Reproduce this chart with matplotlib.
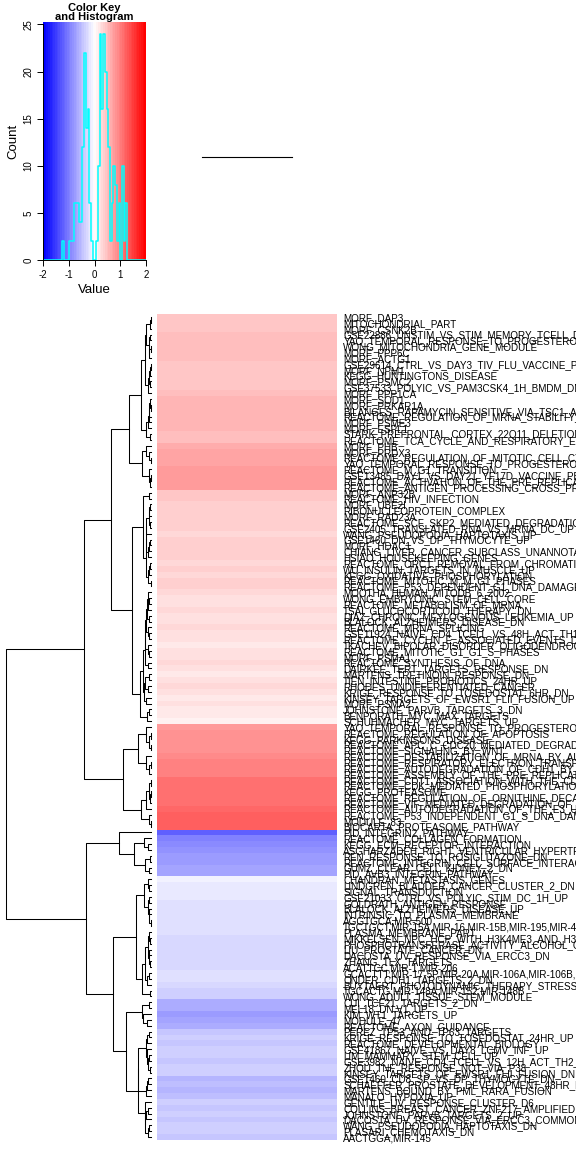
import matplotlib
matplotlib.use('Agg')
import matplotlib.pyplot as plt
import numpy as np
from matplotlib.colors import LinearSegmentedColormap, BoundaryNorm
from matplotlib.ticker import MaxNLocator

plt.rcParams['font.family'] = ['Liberation Sans', 'DejaVu Sans']

# row groups, top to bottom as shown in the heatmap
labels_a = [
    'MORF_DAP3', 'MITOCHONDRIAL_PART', 'MORF_CSNK2B',
    'GSE22886_UNSTIM_VS_STIM_MEMORY_TCELL_DN',
    'YAO_TEMPORAL_RESPONSE_TO_PROGESTERONE_CLUSTER_3',
    'WONG_MITOCHONDRIA_GENE_MODULE', 'MORF_PPP6C', 'MORF_ACTG1',
    'GSE29614_CTRL_VS_DAY3_TIV_FLU_VACCINE_PBMC_DN', 'MORF_NPM1',
    'KEGG_HUNTINGTONS_DISEASE', 'MORF_PSMC2',
    'GSE37533_POLYIC_VS_PAM3CSK4_1H_BMDM_DN', 'MORF_PPP1CA', 'MORF_SOD1',
    'MORF_PRKAR1A', 'BILANGES_RAPAMYCIN_SENSITIVE_VIA_TSC1_AND_TSC2',
    'REACTOME_REGULATION_OF_MRNA_STABILITY_BY_PROTEINS_THAT_BIND_AU_RICH_ELEMENTS',
    'MORF_PSME3', 'MORF_ESPL1', 'STARK_PREFRONTAL_CORTEX_22Q11_DELETION_UP',
    'REACTOME_TCA_CYCLE_AND_RESPIRATORY_ELECTRON_TRANSPORT', 'MORF_PHB',
    'MORF_PRDX3', 'REACTOME_REGULATION_OF_MITOTIC_CELL_CYCLE',
    'YAO_TEMPORAL_RESPONSE_TO_PROGESTERONE_CLUSTER_13',
    'REACTOME_M_G1_TRANSITION', 'GSE13485_DAY1_VS_DAY21_YF17D_VACCINE_PBMC_DN',
    'REACTOME_ACTIVATION_OF_THE_PRE_REPLICATIVE_COMPLEX',
    'REACTOME_ANTIGEN_PROCESSING_CROSS_PRESENTATION',
]
values_a = [0.45, 0.46, 0.44, 0.50, 0.52, 0.49, 0.48, 0.51, 0.42, 0.43,
            0.44, 0.41, 0.43, 0.47, 0.55, 0.57, 0.56, 0.58, 0.54, 0.59,
            0.50, 0.52, 0.64, 0.69, 0.71, 0.72, 0.75, 0.77, 0.78, 0.79]

labels_b = [
    'MORF_ANP32B', 'REACTOME_HIV_INFECTION', 'MORF_UBE2I',
    'RIBONUCLEOPROTEIN_COMPLEX', 'MORF_RAD23A',
    'REACTOME_SCF_SKP2_MEDIATED_DEGRADATION_OF_P27_P21',
    'GSE2405_TRANSLATED_RNA_VS_MRNA_DC_UP', 'WANG_PSEUDOPODIA_HAPTOTAXIS_UP',
    'GSE1460_DN_VS_DP_THYMOCYTE_UP', 'MORF_HDAC1',
    'CHIANG_LIVER_CANCER_SUBCLASS_UNANNOTATED_DN', 'HSIAO_HOUSEKEEPING_GENES',
    'REACTOME_ORC1_REMOVAL_FROM_CHROMATIN', 'WU_INSULIN_TARGETS_IN_MUSCLE_UP',
    'KEGG_OXIDATIVE_PHOSPHORYLATION', 'REACTOME_MITOTIC_M_M_G1_PHASES',
    'REACTOME_P53_DEPENDENT_G1_DNA_DAMAGE_RESPONSE',
    'MOOTHA_HUMAN_MITODB_6_2002', 'WONG_EMBRYONIC_STEM_CELL_CORE',
    'REACTOME_METABOLISM_OF_MRNA', 'TSAI_GLUCOCORTICOID_THERAPY_DN',
    'DIAZ_CHRONIC_MEYLOGENOUS_LEUKEMIA_UP', 'BLALOCK_ALZHEIMERS_DISEASE_DN',
    'REACTOME_MRNA_SPLICING', 'GSE11924_NAIVE_CD4_TCELL_VS_48H_ACT_TH1_UP',
    'REACTOME_CYCLIN_E_ASSOCIATED_EVENTS_DURING_G1_S_TRANSITION',
    'TKACHEV_BIPOLAR_DISORDER_OLIGODENDROCYTE_DN',
    'REACTOME_MITOTIC_G1_G1_S_PHASES', 'MORF_PSMA1',
    'REACTOME_SYNTHESIS_OF_DNA', 'DAIRKEE_TERT_TARGETS_RESPONSE_DN',
    'MARTENS_TRETINOIN_RESPONSE_DN', 'TIEN_INTESTINE_PROBIOTICS_24HR_UP',
    'RHODES_UNDIFFERENTIATED_CANCER', 'KRIGE_RESPONSE_TO_TOSEDOSTAT_6HR_DN',
    'KINSEY_TARGETS_OF_EWSR1_FLII_FUSION_UP', 'MORF_PSMA2',
    'JOHNSTONE_PARVB_TARGETS_3_DN', 'BENPORATH_MYC_MAX_TARGETS',
    'SCHUHMACHER_MYC_TARGETS_UP',
]
values_b = [0.41, 0.44, 0.38, 0.36, 0.39, 0.35, 0.37, 0.31, 0.36, 0.38,
            0.34, 0.39, 0.32, 0.34, 0.30, 0.36, 0.35, 0.28, 0.25, 0.22,
            0.27, 0.24, 0.21, 0.29, 0.23, 0.26, 0.19, 0.25, 0.22, 0.30,
            0.24, 0.17, 0.21, 0.28, 0.23, 0.16, 0.25, 0.18, 0.15, 0.11]

labels_c = [
    'YAO_TEMPORAL_RESPONSE_TO_PROGESTERONE_CLUSTER_14',
    'REACTOME_REGULATION_OF_APOPTOSIS', 'KEGG_PARKINSONS_DISEASE',
    'REACTOME_APC_C_CDC20_MEDIATED_DEGRADATION_OF_MITOTIC_PROTEINS',
    'REACTOME_SIGNALING_BY_WNT',
    'REACTOME_DESTABILIZATION_OF_MRNA_BY_AUF1_HNRNP_D0',
    'REACTOME_RESPIRATORY_ELECTRON_TRANSPORT',
    'REACTOME_AUTODEGRADATION_OF_CDH1_BY_CDH1_APC_C',
    'REACTOME_ASSEMBLY_OF_THE_PRE_REPLICATIVE_COMPLEX',
    'REACTOME_CDT1_ASSOCIATION_WITH_THE_CDC6_ORC_ORIGIN_COMPLEX',
    'REACTOME_CDK_MEDIATED_PHOSPHORYLATION_AND_REMOVAL_OF_CDC6',
    'KEGG_PROTEASOME', 'REACTOME_REGULATION_OF_ORNITHINE_DECARBOXYLASE_ODC',
    'REACTOME_VIF_MEDIATED_DEGRADATION_OF_APOBEC3G',
    'REACTOME_AUTODEGRADATION_OF_THE_E3_UBIQUITIN_LIGASE_COP1',
    'REACTOME_P53_INDEPENDENT_G1_S_DNA_DAMAGE_CHECKPOINT', 'MODULE_83',
    'BIOCARTA_PROTEASOME_PATHWAY',
]
values_c = [0.77, 0.82, 0.83, 0.84, 0.85, 0.90, 0.96, 0.97, 0.99, 1.08,
            1.09, 1.10, 1.11, 1.12, 1.16, 1.22, 1.24, 1.25]

labels_d = [
    'PID_INTEGRIN2_PATHWAY', 'REACTOME_COLLAGEN_FORMATION',
    'KEGG_ECM_RECEPTOR_INTERACTION', 'ASGHARZADEH_RIGHT_VENTRICULAR_HYPERTROPHY',
    'REN_RESPONSE_TO_ROSIGLITAZONE_DN',
    'REACTOME_INTEGRIN_CELL_SURFACE_INTERACTIONS',
    'GUMZ_CLEAR_CELL_KIDNEY_2_DN', 'PID_AVB3_INTEGRIN_PATHWAY',
]
values_d = [-1.23, -0.97, -0.90, -0.84, -0.78, -0.76, -0.71, -0.68]

labels_e = [
    'CHANDRAN_METASTASIS_GENES', 'LINDGREN_BLADDER_CANCER_CLUSTER_2_DN',
    'SIGNAL_TRANSDUCTION', 'GSE21033_CTRL_VS_POLYIC_STIM_DC_1H_UP',
    'GOLDRATH_ANTIGEN_RESPONSE', 'BLALOCK_ALZHEIMERS_DISEASE_UP',
    'INTRINSIC_TO_PLASMA_MEMBRANE', 'AGGTGCA,MIR-500',
    'TGCTGCT,MIR-15A,MIR-16,MIR-15B,MIR-195,MIR-424,MIR-497',
    'PLASMA_MEMBRANE_PART', 'MIKKELSEN_NPC_HCP_WITH_H3K4ME3_AND_H3K27ME3',
    'PHOSPHOTRANSFERASE_ACTIVITY_ALCOHOL_GROUP_AS_ACCEPTOR',
    'LIU_PROSTATE_CANCER_DN', 'DACOSTA_UV_RESPONSE_VIA_ERCC3_DN',
    'ZHANG_TLX_TARGETS', 'ACATTCC,MIR-1,MIR-206',
    'GCACTTT,MIR-17-5P,MIR-20A,MIR-106A,MIR-106B,MIR-20B,MIR-519D',
    'ONDER_CDH1_TARGETS_2_DN', 'BUYTAERT_PHOTODYNAMIC_THERAPY_STRESS_UP',
    'TGCACTG,MIR-148A,MIR-152,MIR-148B', 'WONG_ADULT_TISSUE_STEM_MODULE',
    'CUI_TCF21_TARGETS_2_DN', 'MEL18_DN.V1_UP', 'KIM_WT1_TARGETS_UP',
    'MODULE_47', 'REACTOME_AXON_GUIDANCE', 'PEREZ_TP53_AND_TP63_TARGETS',
    'KRIGE_RESPONSE_TO_TOSEDOSTAT_24HR_UP', 'REACTOME_DEVELOPMENTAL_BIOLOGY',
    'GSE41867_NAIVE_VS_DAY8_LCMV_INF_UP', 'LIM_MAMMARY_STEM_CELL_UP',
    'GSE3982_NAIVE_CD4_TCELL_VS_12H_ACT_TH2_UP',
    'ZHOU_TNF_RESPONSE_NOT_VIA_P38', 'KINSEY_TARGETS_OF_EWSR1_FLII_FUSION_DN',
    'GSE1460_CD8_SP_VS_DP_THYMOCYTE_DN',
    'SCHAEFFER_PROSTATE_DEVELOPMENT_48HR_DN',
    'MARTENS_BOUND_BY_PML_RARA_FUSION', 'MANALO_HYPOXIA_UP',
    'GENTILE_UV_RESPONSE_CLUSTER_D6', 'COLLINS_BREAST_CANCER_ZNF217_AMPLIFIED',
    'JOHNSTONE_PARVB_TARGETS_2_UP', 'DACOSTA_UV_RESPONSE_VIA_ERCC3_COMMON_DN',
    'WANG_PSEUDOPODIA_HAPTOTAXIS_DN', 'PLASARI_CHEMOTAXIS_DN',
    'AACTGGA,MIR-145',
]
values_e = [-0.12, -0.18, -0.15, -0.19, -0.22, -0.25, -0.21, -0.24, -0.23,
            -0.26, -0.29, -0.27, -0.31, -0.28, -0.32, -0.30, -0.22, -0.25,
            -0.29, -0.36, -0.38, -0.62, -0.65, -0.77, -0.70, -0.63, -0.41,
            -0.37, -0.44, -0.35, -0.39, -0.42, -0.36, -0.38, -0.55, -0.50,
            -0.57, -0.48, -0.34, -0.43, -0.37, -0.45, -0.39, -0.35, -0.41]

labels = labels_a + labels_b + labels_c + labels_d + labels_e
values = np.array(values_a + values_b + values_c + values_d + values_e)
mat = np.column_stack([values, values])   # two identical columns
n = len(values)

W, H = 576, 1152
fig = plt.figure(figsize=(W / 100, H / 100), dpi=100)


def px(l, t, r, b):
    return [l / W, 1 - b / H, (r - l) / W, (b - t) / H]


cmap = LinearSegmentedColormap.from_list('bluered', ['#0000FF', '#FFFFFF', '#FF0000'], N=60)
breaks = np.linspace(-2, 2, 61)
norm = BoundaryNorm(breaks, cmap.N)

# heatmap
ax = fig.add_axes(px(157, 314, 337, 1140))
ax.imshow(mat, cmap=cmap, norm=norm, aspect='auto', interpolation='nearest',
          extent=(0, mat.shape[1], n, 0))
ax.set_ylim(n, 0)
ax.set_xticks([])
ax.yaxis.tick_right()
ax.set_yticks(np.arange(n) + 0.5)
ax.set_yticklabels(labels, fontsize=7.1)
ax.tick_params(axis='y', length=0, pad=4.5)
for s in ax.spines.values():
    s.set_visible(False)


# row dendrogram: complete linkage, keeping neighbouring rows together
def row_tree(v):
    cl = [dict(lo=x, hi=x, pos=i + 0.5, h=0.0) for i, x in enumerate(v)]
    segs = []
    while len(cl) > 1:
        d = [(max(a['hi'], b['hi']) - min(a['lo'], b['lo'])) * np.sqrt(2)
             for a, b in zip(cl[:-1], cl[1:])]
        k = int(np.argmin(d))
        a, b = cl[k], cl[k + 1]
        h = d[k]
        segs.append(([a['h'], h, h, b['h']], [a['pos'], a['pos'], b['pos'], b['pos']]))
        cl[k:k + 2] = [dict(lo=min(a['lo'], b['lo']), hi=max(a['hi'], b['hi']),
                            pos=(a['pos'] + b['pos']) / 2, h=h)]
    return segs, cl[0]['h']


segs, top = row_tree(values)
axd = fig.add_axes(px(0, 314, 157, 1140))
for xs, ys in segs:
    axd.plot(xs, ys, color='black', lw=0.75)
axd.set_ylim(n, 0)
axd.set_xlim(top * 1.04, -top * 0.04)
axd.axis('off')

# column dendrogram (two identical columns -> zero height)
axc = fig.add_axes(px(157, 22, 337, 292))
col_h = np.linalg.norm(mat[:, 0] - mat[:, 1])
axc.plot([0.5, 1.5], [col_h, col_h], color='black', lw=0.8)
axc.set_xlim(0, 2)
axc.set_ylim(-1, 1)
axc.axis('off')

# color key with histogram
axk = fig.add_axes(px(43, 22, 146, 260))
axk.imshow(np.linspace(-2, 2, 60)[None, :], cmap=cmap, norm=norm, aspect='auto',
           extent=(-2, 2, 0, 1), interpolation='nearest')
counts, _ = np.histogram(mat.ravel(), bins=breaks)
hy = counts / counts.max() * 0.95
axk.step(breaks, np.append(hy, hy[-1]), where='post', color='#00FFFF', lw=1.1)
axk.set_xlim(-2, 2)
axk.set_ylim(0, 1)
yt = MaxNLocator(nbins=5, steps=[1, 2, 5, 10]).tick_values(0, counts.max())
axk.set_yticks(yt / counts.max() * 0.95)
axk.set_yticklabels([str(int(t)) for t in yt], rotation=90, va='center', fontsize=7)
axk.set_xticks([-2, -1, 0, 1, 2])
axk.set_xticklabels(['-2', '-1', '0', '1', '2'], fontsize=7)
axk.tick_params(length=4, width=0.7, pad=3)
axk.spines['top'].set_visible(False)
axk.spines['right'].set_visible(False)
axk.spines['left'].set_bounds(0, yt[-1] / counts.max() * 0.95)
axk.spines['left'].set_linewidth(0.7)
axk.spines['bottom'].set_linewidth(0.7)
axk.set_xlabel('Value', fontsize=9.5, labelpad=3)
axk.set_ylabel('Count', fontsize=9.5, labelpad=3)
axk.set_title('Color Key\nand Histogram', fontsize=8, fontweight='bold',
              pad=1, linespacing=0.9)

fig.savefig('out.png', dpi=100)
